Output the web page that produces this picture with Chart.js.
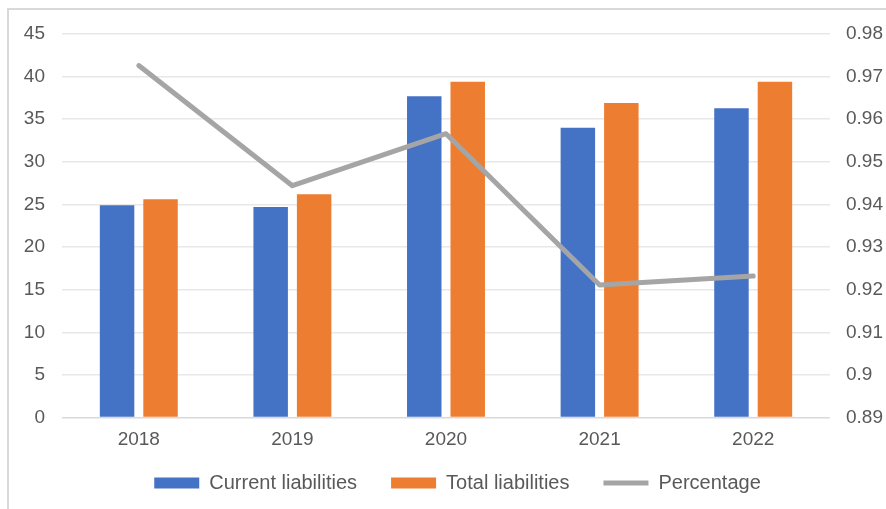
<!DOCTYPE html>
<html>
<head>
<meta charset="utf-8">
<script src="https://cdn.jsdelivr.net/npm/chart.js@4.4.0/dist/chart.umd.min.js"></script>
<style>
  html, body { margin: 0; padding: 0; background: #ffffff; }
  #frame {
    position: absolute; left: 7px; top: 8px;
    width: 879px; height: 501px;
    border-left: 2px solid #d9d9d9; border-top: 2px solid #d9d9d9;
  }
  #chart { display: block; }
</style>
</head>
<body>
<div id="frame"><canvas id="chart" width="877" height="499"></canvas></div>
<script>
var years = ['2018', '2019', '2020', '2021', '2022'];
var current_liabilities = [24.9, 24.7, 37.7, 34.0, 36.3];
var total_liabilities = [25.6, 26.2, 39.4, 36.9, 39.4];
var percentage = [0.9726, 0.9444, 0.9566, 0.9211, 0.9232];
var left_ticks = [0, 45, 5];        // min, max, step
var right_ticks = [0.89, 0.98, 0.01];

var font_family = '"Liberation Sans", Arial, sans-serif';
var text_color = '#595959';

// nudge the legend a bit to the right, like the original
const legendShift = {
    id: 'legendShift',
    afterLayout: function (c) {
        c.legend.left += 10;
        c.legend.right += 10;
    }
};

const ctx = document.getElementById('chart').getContext('2d');

const chart = new Chart(ctx, {
    type: 'bar',
    data: {
        labels: years,
        datasets: [{
            label: 'Current liabilities',
            data: current_liabilities,
            backgroundColor: '#4472C4',
            yAxisID: 'y',
            order: 1
        }, {
            label: 'Total liabilities',
            data: total_liabilities,
            backgroundColor: '#ED7D31',
            yAxisID: 'y',
            order: 1
        }, {
            type: 'line',
            label: 'Percentage',
            data: percentage,
            borderColor: '#A5A5A5',
            backgroundColor: '#A5A5A5',
            borderWidth: 5,
            borderCapStyle: 'round',
            borderJoinStyle: 'round',
            pointRadius: 0,
            tension: 0,
            yAxisID: 'y1',
            order: 0  // line drawn over the bars
        }]
    },
    plugins: [legendShift],
    options: {
        responsive: false,
        animation: false,
        categoryPercentage: 0.566,
        barPercentage: 0.793,
        layout: { padding: { left: 0, right: 0, top: 24, bottom: 6 } },
        plugins: {
            tooltip: { enabled: false },
            legend: {
                position: 'bottom',
                labels: {
                    usePointStyle: true,
                    pointStyleWidth: 45,
                    boxHeight: 11,
                    padding: 34,
                    color: text_color,
                    font: { family: font_family, size: 20 },
                    sort: function (a, b) { return a.datasetIndex - b.datasetIndex; },
                    generateLabels: function (c) {
                        var items = Chart.defaults.plugins.legend.labels.generateLabels(c);
                        items.forEach(function (it) {
                            it.pointStyle = it.datasetIndex === 2 ? 'line' : 'rect';
                            if (it.datasetIndex !== 2) { it.lineWidth = 0; }
                        });
                        return items;
                    }
                }
            }
        },
        scales: {
            x: {
                grid: { display: false, drawTicks: false },
                border: { display: false },
                ticks: {
                    color: text_color,
                    padding: 11,
                    font: { family: font_family, size: 19 }
                },
                afterFit: function (s) {
                    s.height = 21.5;
                    s._computeLabelArea = function () { return undefined; };  // don't clip labels
                }
            },
            y: {
                position: 'left',
                min: left_ticks[0],
                max: left_ticks[1],
                border: { display: false },
                grid: {
                    drawTicks: false,
                    lineWidth: 1.5,
                    color: function (c) { return c.tick.value === 0 ? '#d9d9d9' : '#e8e8e8'; }
                },
                ticks: {
                    stepSize: left_ticks[2],
                    padding: 17,
                    color: text_color,
                    font: { family: font_family, size: 19 }
                },
                afterFit: function (s) { s.width = 53; s.paddingTop = 0; s.paddingBottom = 0; }
            },
            y1: {
                position: 'right',
                min: right_ticks[0],
                max: right_ticks[1],
                border: { display: false },
                grid: { display: false, drawTicks: false },
                ticks: {
                    stepSize: right_ticks[2],
                    padding: 16,
                    color: text_color,
                    font: { family: font_family, size: 19 },
                    callback: function (v) { return String(+v.toFixed(2)); }
                },
                afterFit: function (s) { s.width = 56; s.paddingTop = 0; s.paddingBottom = 0; }
            }
        }
    }
});
</script>
</body>
</html>
